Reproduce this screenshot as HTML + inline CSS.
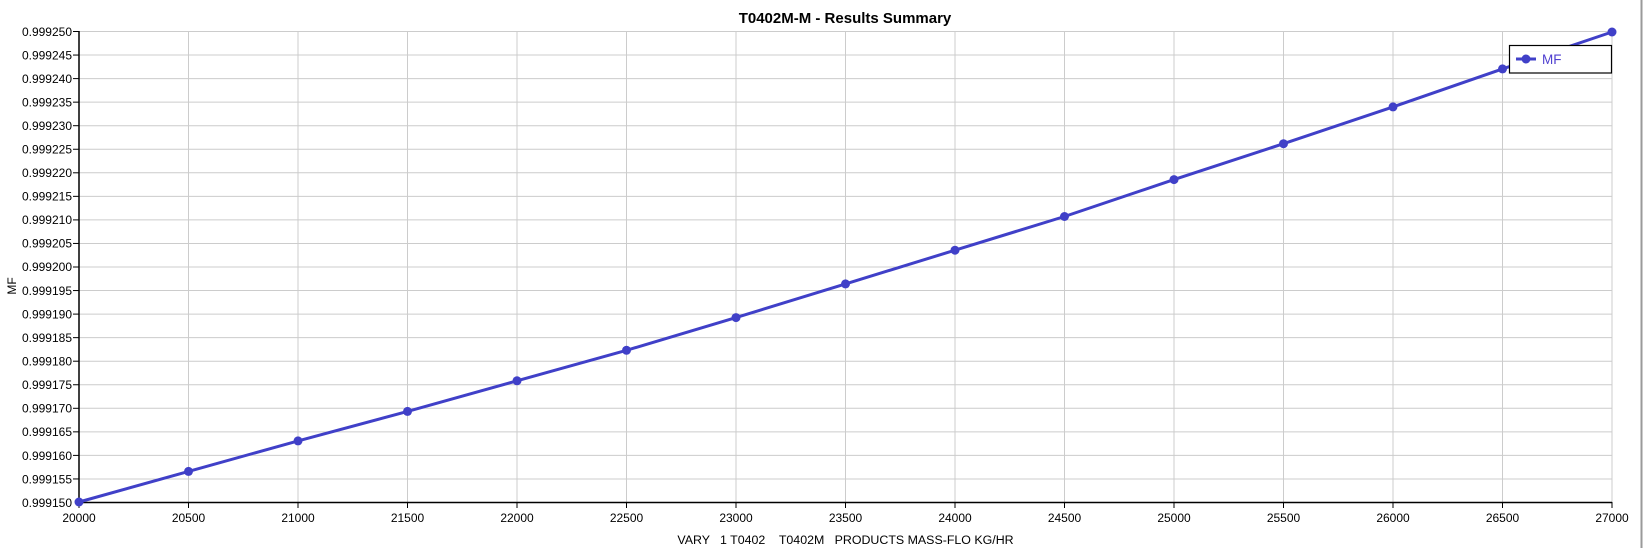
<!DOCTYPE html>
<html><head><meta charset="utf-8"><style>
html,body{margin:0;padding:0;background:#fff;}
svg{display:block;font-family:"Liberation Sans",sans-serif;}
</style></head><body>
<svg width="1644" height="548" viewBox="0 0 1644 548" xmlns="http://www.w3.org/2000/svg">
<rect width="1644" height="548" fill="#fff"/>
<line x1="1641.5" y1="0" x2="1641.5" y2="548" stroke="#9a9a9a" stroke-width="2"/>
<text x="845" y="23" text-anchor="middle" font-size="15" font-weight="bold" fill="#000">T0402M-M - Results Summary</text>
<g stroke="#cccccc" stroke-width="1">
<line x1="79" y1="31.5" x2="1612" y2="31.5"/><line x1="79" y1="55.05" x2="1612" y2="55.05"/><line x1="79" y1="78.6" x2="1612" y2="78.6"/><line x1="79" y1="102.15" x2="1612" y2="102.15"/><line x1="79" y1="125.7" x2="1612" y2="125.7"/><line x1="79" y1="149.25" x2="1612" y2="149.25"/><line x1="79" y1="172.8" x2="1612" y2="172.8"/><line x1="79" y1="196.35" x2="1612" y2="196.35"/><line x1="79" y1="219.9" x2="1612" y2="219.9"/><line x1="79" y1="243.45" x2="1612" y2="243.45"/><line x1="79" y1="267" x2="1612" y2="267"/><line x1="79" y1="290.55" x2="1612" y2="290.55"/><line x1="79" y1="314.1" x2="1612" y2="314.1"/><line x1="79" y1="337.65" x2="1612" y2="337.65"/><line x1="79" y1="361.2" x2="1612" y2="361.2"/><line x1="79" y1="384.75" x2="1612" y2="384.75"/><line x1="79" y1="408.3" x2="1612" y2="408.3"/><line x1="79" y1="431.85" x2="1612" y2="431.85"/><line x1="79" y1="455.4" x2="1612" y2="455.4"/><line x1="79" y1="478.95" x2="1612" y2="478.95"/>
<line x1="188.5" y1="31" x2="188.5" y2="502"/><line x1="298" y1="31" x2="298" y2="502"/><line x1="407.5" y1="31" x2="407.5" y2="502"/><line x1="517" y1="31" x2="517" y2="502"/><line x1="626.5" y1="31" x2="626.5" y2="502"/><line x1="736" y1="31" x2="736" y2="502"/><line x1="845.5" y1="31" x2="845.5" y2="502"/><line x1="955" y1="31" x2="955" y2="502"/><line x1="1064.5" y1="31" x2="1064.5" y2="502"/><line x1="1174" y1="31" x2="1174" y2="502"/><line x1="1283.5" y1="31" x2="1283.5" y2="502"/><line x1="1393" y1="31" x2="1393" y2="502"/><line x1="1502.5" y1="31" x2="1502.5" y2="502"/><line x1="1612" y1="31" x2="1612" y2="502"/>
</g>
<g stroke="#000" stroke-width="1.5">
<line x1="79" y1="31" x2="79" y2="502.5"/><line x1="78" y1="502.5" x2="1612" y2="502.5"/>
</g>
<g stroke="#000" stroke-width="1">
<line x1="73" y1="31.5" x2="79" y2="31.5"/><line x1="73" y1="55.05" x2="79" y2="55.05"/><line x1="73" y1="78.6" x2="79" y2="78.6"/><line x1="73" y1="102.15" x2="79" y2="102.15"/><line x1="73" y1="125.7" x2="79" y2="125.7"/><line x1="73" y1="149.25" x2="79" y2="149.25"/><line x1="73" y1="172.8" x2="79" y2="172.8"/><line x1="73" y1="196.35" x2="79" y2="196.35"/><line x1="73" y1="219.9" x2="79" y2="219.9"/><line x1="73" y1="243.45" x2="79" y2="243.45"/><line x1="73" y1="267" x2="79" y2="267"/><line x1="73" y1="290.55" x2="79" y2="290.55"/><line x1="73" y1="314.1" x2="79" y2="314.1"/><line x1="73" y1="337.65" x2="79" y2="337.65"/><line x1="73" y1="361.2" x2="79" y2="361.2"/><line x1="73" y1="384.75" x2="79" y2="384.75"/><line x1="73" y1="408.3" x2="79" y2="408.3"/><line x1="73" y1="431.85" x2="79" y2="431.85"/><line x1="73" y1="455.4" x2="79" y2="455.4"/><line x1="73" y1="478.95" x2="79" y2="478.95"/>
<line x1="79" y1="502" x2="79" y2="508"/><line x1="188.5" y1="502" x2="188.5" y2="508"/><line x1="298" y1="502" x2="298" y2="508"/><line x1="407.5" y1="502" x2="407.5" y2="508"/><line x1="517" y1="502" x2="517" y2="508"/><line x1="626.5" y1="502" x2="626.5" y2="508"/><line x1="736" y1="502" x2="736" y2="508"/><line x1="845.5" y1="502" x2="845.5" y2="508"/><line x1="955" y1="502" x2="955" y2="508"/><line x1="1064.5" y1="502" x2="1064.5" y2="508"/><line x1="1174" y1="502" x2="1174" y2="508"/><line x1="1283.5" y1="502" x2="1283.5" y2="508"/><line x1="1393" y1="502" x2="1393" y2="508"/><line x1="1502.5" y1="502" x2="1502.5" y2="508"/><line x1="1612" y1="502" x2="1612" y2="508"/>
</g>
<g font-size="12" fill="#000" text-anchor="end">
<text x="72" y="36">0.999250</text><text x="72" y="59.5">0.999245</text><text x="72" y="83">0.999240</text><text x="72" y="106.5">0.999235</text><text x="72" y="130">0.999230</text><text x="72" y="153.5">0.999225</text><text x="72" y="177">0.999220</text><text x="72" y="200.5">0.999215</text><text x="72" y="224">0.999210</text><text x="72" y="247.5">0.999205</text><text x="72" y="271">0.999200</text><text x="72" y="295">0.999195</text><text x="72" y="318.5">0.999190</text><text x="72" y="342">0.999185</text><text x="72" y="365.5">0.999180</text><text x="72" y="389">0.999175</text><text x="72" y="412.5">0.999170</text><text x="72" y="436">0.999165</text><text x="72" y="460">0.999160</text><text x="72" y="483.5">0.999155</text><text x="72" y="507">0.999150</text>
</g>
<g font-size="12" fill="#000" text-anchor="middle">
<text x="79" y="522">20000</text><text x="188.5" y="522">20500</text><text x="298" y="522">21000</text><text x="407.5" y="522">21500</text><text x="517" y="522">22000</text><text x="626.5" y="522">22500</text><text x="736" y="522">23000</text><text x="845.5" y="522">23500</text><text x="955" y="522">24000</text><text x="1064.5" y="522">24500</text><text x="1174" y="522">25000</text><text x="1283.5" y="522">25500</text><text x="1393" y="522">26000</text><text x="1502.5" y="522">26500</text><text x="1612" y="522">27000</text>
<text x="845.5" y="544" font-size="12.4" xml:space="preserve">VARY   1 T0402    T0402M   PRODUCTS MASS-FLO KG/HR</text>
</g>
<text x="0" y="0" font-size="12" fill="#000" text-anchor="middle" transform="translate(16,286) rotate(-90)">MF</text>
<polyline fill="none" stroke="#4040c8" stroke-width="3" stroke-linejoin="round" points="79,502 188.5,471.4 298,440.9 407.5,411.4 517,380.8 626.5,350.3 736,317.6 845.5,283.9 955,250.2 1064.5,216.5 1174,179.6 1283.5,143.7 1393,106.9 1502.5,68.9 1612,32"/>
<g fill="#4040c8">
<circle cx="79" cy="502" r="4.5"/><circle cx="188.5" cy="471.4" r="4.5"/><circle cx="298" cy="440.9" r="4.5"/><circle cx="407.5" cy="411.4" r="4.5"/><circle cx="517" cy="380.8" r="4.5"/><circle cx="626.5" cy="350.3" r="4.5"/><circle cx="736" cy="317.6" r="4.5"/><circle cx="845.5" cy="283.9" r="4.5"/><circle cx="955" cy="250.2" r="4.5"/><circle cx="1064.5" cy="216.5" r="4.5"/><circle cx="1174" cy="179.6" r="4.5"/><circle cx="1283.5" cy="143.7" r="4.5"/><circle cx="1393" cy="106.9" r="4.5"/><circle cx="1502.5" cy="68.9" r="4.5"/><circle cx="1612" cy="32" r="4.5"/>
</g>
<rect x="1509.5" y="45.5" width="102" height="27.5" fill="#fff" stroke="#000" stroke-width="1.2"/>
<line x1="1516" y1="59" x2="1536" y2="59" stroke="#4040c8" stroke-width="3"/>
<circle cx="1526" cy="59" r="4.5" fill="#4040c8"/>
<text x="1542" y="64" font-size="13.5" fill="#5040d0">MF</text>
</svg>
</body></html>
